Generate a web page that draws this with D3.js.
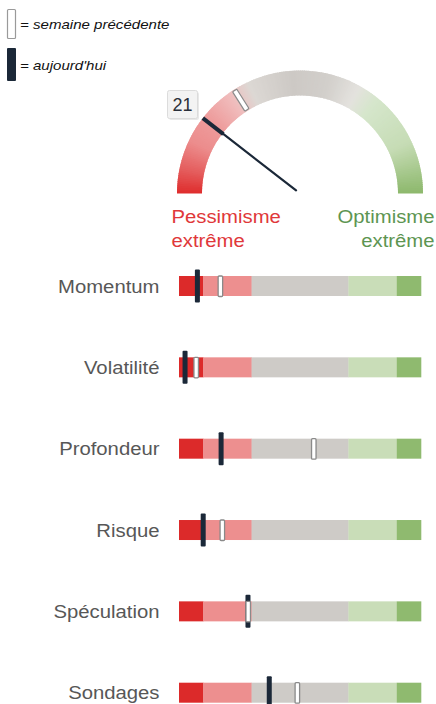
<!DOCTYPE html>
<html>
<head>
<meta charset="utf-8">
<script src="https://cdn.jsdelivr.net/npm/d3@7"></script>
<style>
  html, body { margin: 0; padding: 0; background: #fff; }
  svg { display: block; }
  text { font-family: "Liberation Sans", Arial, sans-serif; }
</style>
</head>
<body>
<svg id="chart" width="436" height="704"></svg>
<script>
// ---- data ----
const categories = ["Momentum", "Volatilité", "Profondeur", "Risque", "Spéculation", "Sondages"];
const todayValues = [7.6, 2.5, 17.4, 10, 28.5, 37.3];
const prevValues = [17, 7, 55.6, 17.8, 28.5, 48.8];
const gaugeToday = 21;
const gaugePrev = 32;
const zoneBreaks = [0, 10, 30, 70, 90, 100];
const zoneColors = ["#dc2a2a", "#ed8f8f", "#cecbc7", "#c9ddb8", "#8fba6f"];
const legendLabels = ["= semaine précédente", "= aujourd'hui"];
const leftLabel = ["Pessimisme", "extrême"];
const rightLabel = ["Optimisme", "extrême"];

// ---- setup ----
const svg = d3.select("#chart");
const SX = 1.16; // horizontal stretch of the text in the reference
const dark = "#1b2838";

function stretchedText(g, x, y, str, opts) {
  return g.append("text")
    .attr("transform", `translate(${x},${y}) scale(${SX},1)`)
    .attr("text-anchor", opts.anchor || "start")
    .attr("font-size", opts.size)
    .attr("font-style", opts.style || "normal")
    .attr("fill", opts.fill)
    .text(str);
}

// ---- legend ----
const legend = svg.append("g");
legend.append("rect").attr("x", 7.5).attr("y", 9.5).attr("width", 8).attr("height", 29)
  .attr("fill", "#fff").attr("stroke", "#9a9a9a").attr("stroke-width", 1.2).attr("rx", 1);
legend.append("rect").attr("x", 7).attr("y", 48).attr("width", 9).attr("height", 33)
  .attr("fill", dark).attr("rx", 1);
stretchedText(legend, 20, 28.5, legendLabels[0], {size: 13, style: "italic", fill: "#111"});
stretchedText(legend, 20, 70, legendLabels[1], {size: 13, style: "italic", fill: "#111"});

// ---- gauge ----
const cx = 300, cy = 193.5, rOut = 123, rIn = 98;
const ang = d3.scaleLinear().domain([0, 100]).range([-Math.PI / 2, Math.PI / 2]);
const gaugeColor = d3.scaleLinear()
  .domain([0, 6, 14, 22, 30, 36, 48, 58, 66, 72, 86, 100])
  .range(["#df2c2c", "#e45a5a", "#ec8c8c", "#ee9c9c", "#f0bcbc", "#dcd8d4", "#cdc9c5", "#d2cfcb", "#e4e2de", "#d5e6cb", "#c6dcb5", "#8db86c"])
  .interpolate(d3.interpolateRgb);
const gauge = svg.append("g").attr("transform", `translate(${cx},${cy})`);
const arc = d3.arc().innerRadius(rIn).outerRadius(rOut);
const step = 0.5;
gauge.selectAll("path.slice")
  .data(d3.range(0, 100, step))
  .join("path")
  .attr("class", "slice")
  .attr("d", v => arc({startAngle: ang(v), endAngle: ang(Math.min(100, v + step + 0.3))}))
  .attr("fill", v => gaugeColor(v + step / 2));

// previous-week marker on gauge
gauge.append("rect")
  .attr("transform", `rotate(${ang(gaugePrev) * 180 / Math.PI})`)
  .attr("x", -2.5).attr("y", -rOut + 1).attr("width", 5).attr("height", rOut - rIn - 2)
  .attr("fill", "#fff").attr("stroke", "#8a8a8a").attr("stroke-width", 1.2).attr("rx", 1);

// needle
const a = ang(gaugeToday);
const px = r => r * Math.sin(a), py = r => -r * Math.cos(a);
gauge.append("line")
  .attr("x1", px(5)).attr("y1", py(5)).attr("x2", px(rIn)).attr("y2", py(rIn))
  .attr("stroke", dark).attr("stroke-width", 2.2).attr("stroke-linecap", "round");
gauge.append("line")
  .attr("x1", px(rIn - 1)).attr("y1", py(rIn - 1)).attr("x2", px(rOut)).attr("y2", py(rOut))
  .attr("stroke", dark).attr("stroke-width", 4);

// value box
const vb = svg.append("g");
vb.append("rect").attr("x", 169).attr("y", 92).attr("width", 30).attr("height", 28)
  .attr("fill", "#d8d8d8").attr("opacity", 0.6).attr("rx", 2);
vb.append("rect").attr("x", 167.5).attr("y", 90.5).attr("width", 30).attr("height", 28)
  .attr("fill", "#f3f3f3").attr("stroke", "#dcdcdc").attr("stroke-width", 1).attr("rx", 2);
vb.append("text").attr("x", 182.5).attr("y", 111).attr("text-anchor", "middle")
  .attr("font-size", 18).attr("fill", "#2a2f3a").text(String(gaugeToday));

// extreme labels
const lbl = svg.append("g");
stretchedText(lbl, 171.5, 222.5, leftLabel[0], {size: 17.5, fill: "#e0383a"});
stretchedText(lbl, 171.5, 247, leftLabel[1], {size: 17.5, fill: "#e0383a"});
stretchedText(lbl, 434.5, 222.5, rightLabel[0], {size: 17.5, fill: "#5d9552", anchor: "end"});
stretchedText(lbl, 434.5, 247, rightLabel[1], {size: 17.5, fill: "#5d9552", anchor: "end"});

// ---- bars ----
const x = d3.scaleLinear().domain([0, 100]).range([179, 421]);
const y = d3.scalePoint().domain(categories).range([286, 692.7]);
const barH = 20;
const zones = d3.range(zoneColors.length).map(i => ({from: zoneBreaks[i], to: zoneBreaks[i + 1], color: zoneColors[i]}));

const rows = svg.selectAll("g.row")
  .data(categories.map((c, i) => ({cat: c, today: todayValues[i], prev: prevValues[i]})))
  .join("g").attr("class", "row");

rows.each(function(d) {
  const g = d3.select(this);
  const yc = y(d.cat);
  g.selectAll("rect.zone").data(zones).join("rect").attr("class", "zone")
    .attr("x", z => x(z.from)).attr("width", z => x(z.to) - x(z.from) + 0.3)
    .attr("y", yc - barH / 2).attr("height", barH)
    .attr("fill", z => z.color);
  stretchedText(g, 159.5, yc + 6.6, d.cat, {size: 17.5, fill: "#575757", anchor: "end"});
  g.append("rect")
    .attr("x", x(d.today) - 2.5).attr("width", 5)
    .attr("y", yc - 16.5).attr("height", 33)
    .attr("fill", dark).attr("rx", 1);
  g.append("rect")
    .attr("x", x(d.prev) - 2).attr("width", 4.5)
    .attr("y", yc - 10).attr("height", 20.5)
    .attr("fill", "#fff").attr("stroke", "#8a8a8a").attr("stroke-width", 1.3).attr("rx", 1);
});
</script>
</body>
</html>
